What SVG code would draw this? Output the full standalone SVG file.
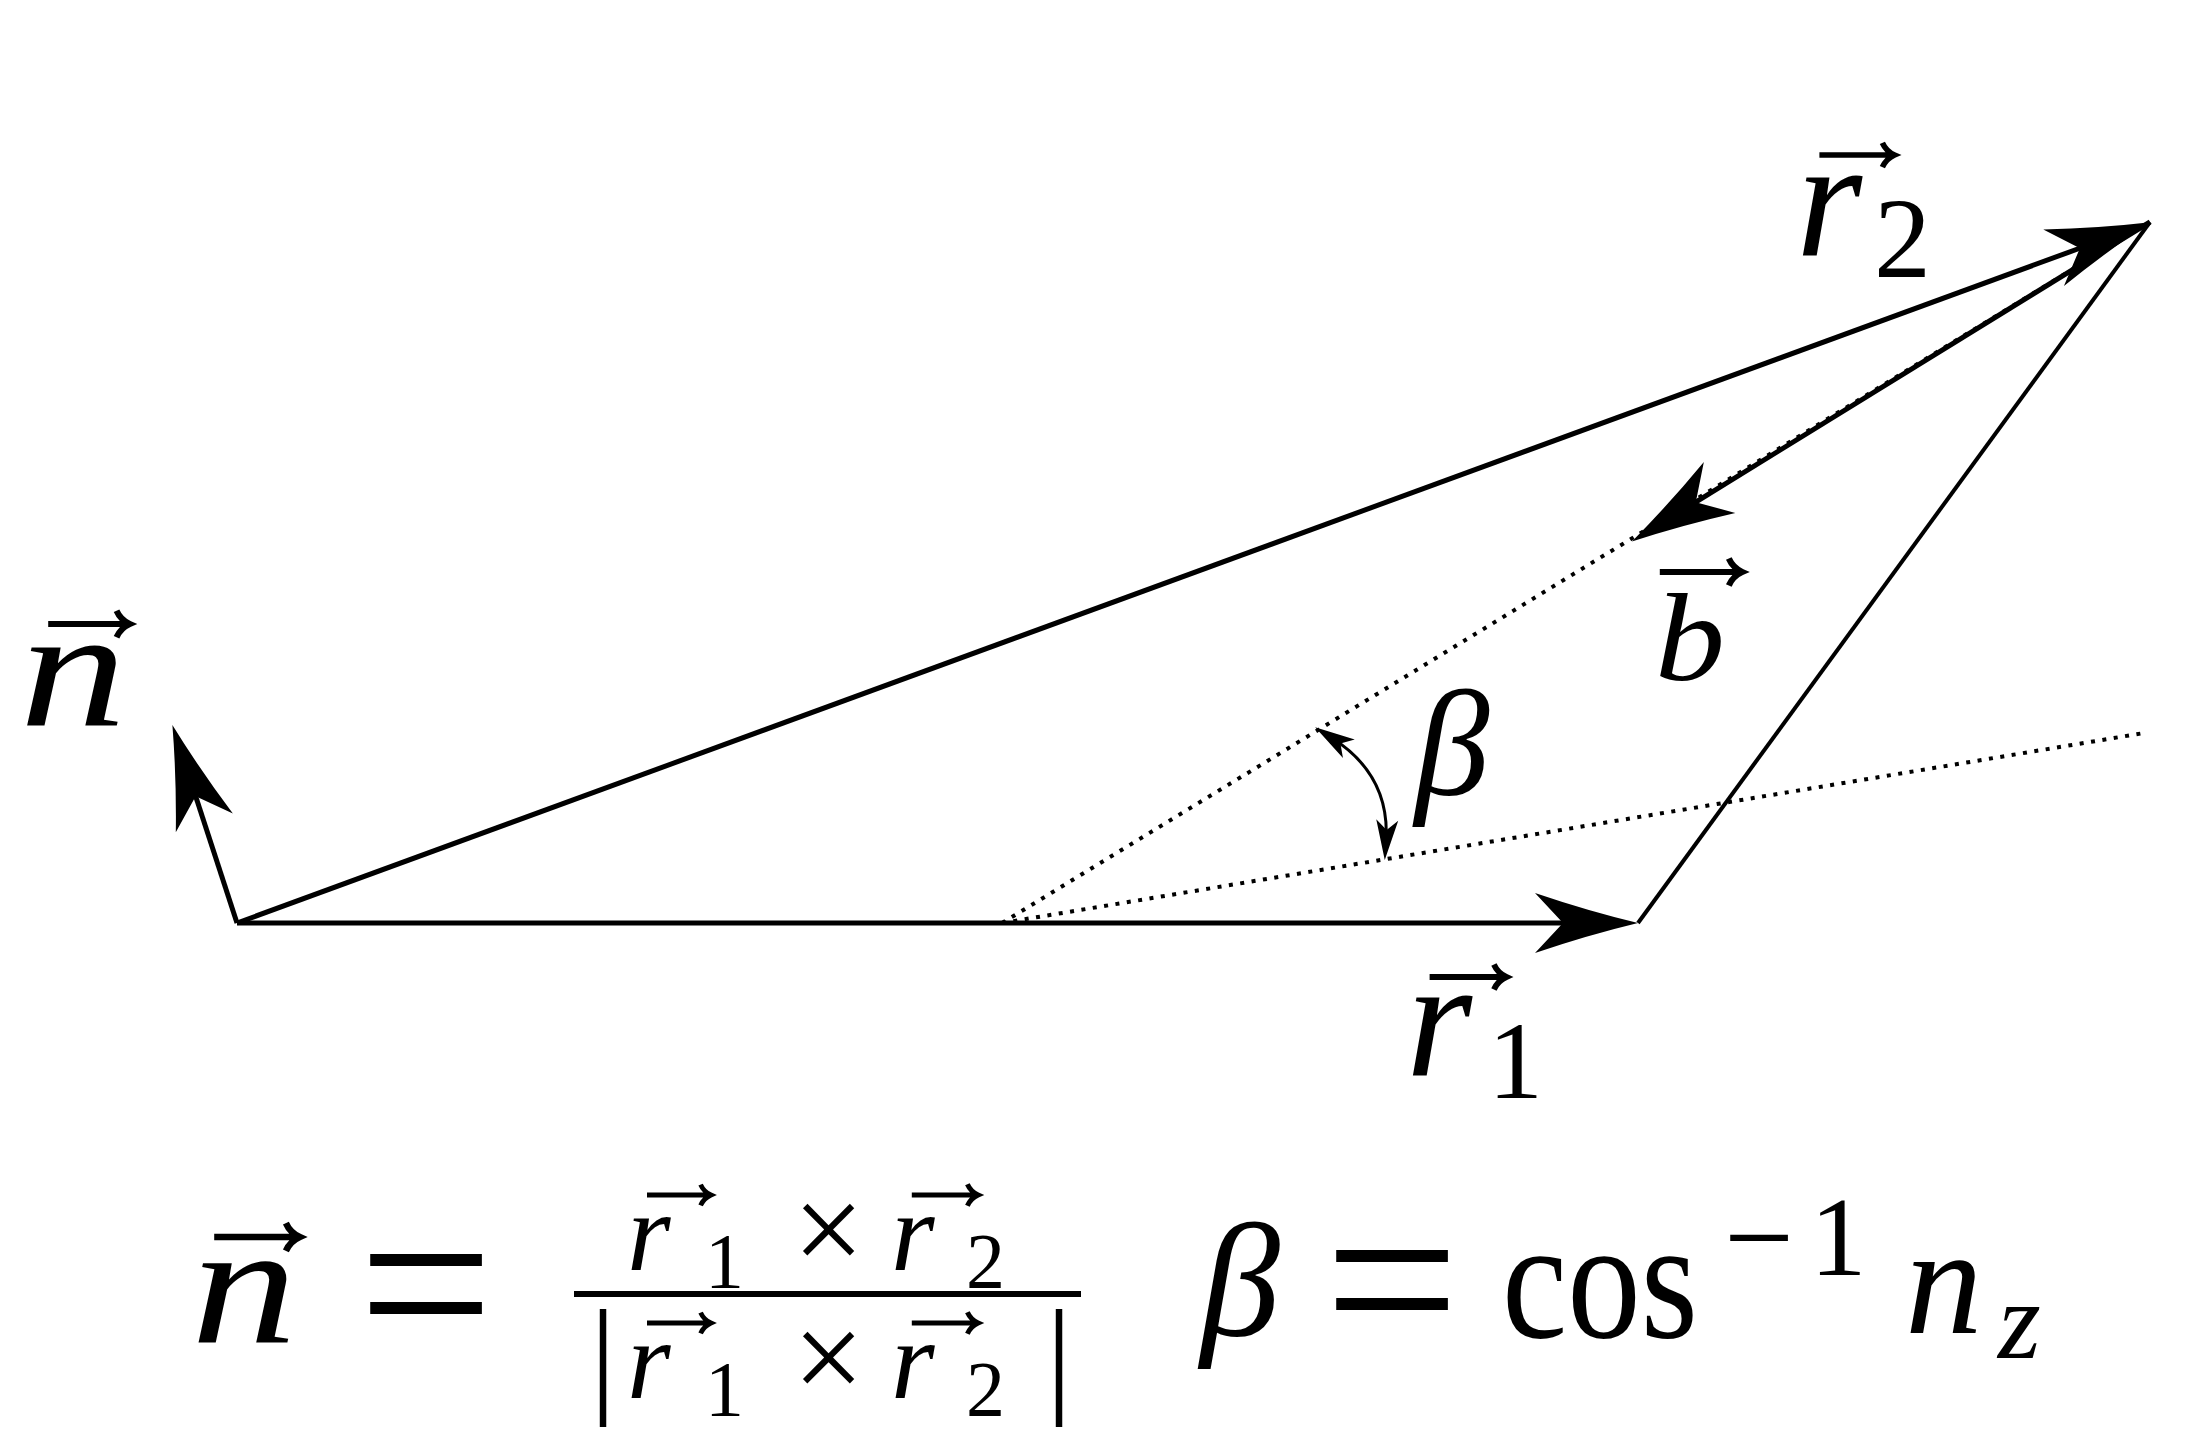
<svg xmlns="http://www.w3.org/2000/svg" width="2186" height="1440" viewBox="0 0 2186 1440" font-family="Liberation Serif, serif">
<style>
text{fill:#000}
.mi{font-style:italic}
.mr{font-style:normal}
.c{text-anchor:middle}
.vl{stroke:#000;stroke-width:5;fill:none;stroke-linecap:butt}
.dot{stroke:#000;stroke-width:4;fill:none;stroke-dasharray:4 7.5}
</style>
<defs>
<marker id="ah" markerUnits="userSpaceOnUse" viewBox="-50 -35 115 70" refX="0" refY="0" markerWidth="115" markerHeight="70" orient="auto" overflow="visible">
<path d="M60,0 Q10,-12 -43,-30 L-15,0 L-43,30 Q10,12 60,0 Z" fill="#000"/>
</marker>
<marker id="sh" markerUnits="userSpaceOnUse" viewBox="-25 -15 50 30" refX="0" refY="0" markerWidth="50" markerHeight="30" orient="auto-start-reverse" overflow="visible">
<path d="M20,0 L-20,-11 L-10,0 L-20,11 Z" fill="#000"/>
</marker>
<path id="vec" d="M-40,0 H37 M27,-13 Q31,-4 40,0 Q31,4 27,13" fill="none" stroke="#000" stroke-width="6"/>
</defs>
<rect width="2186" height="1440" fill="#fff"/>
<g id="connectors">
<line class="dot" x1="1002" y1="923" x2="2150" y2="222"/>
<line class="dot" x1="1002" y1="923" x2="2144" y2="733"/>
<line class="vl" x1="237" y1="923" x2="1578" y2="923" marker-end="url(#ah)"/>
<line class="vl" x1="237" y1="923" x2="2094" y2="243" marker-end="url(#ah)"/>
<line class="vl" x1="237" y1="923" x2="191" y2="782" marker-end="url(#ah)"/>
<line class="vl" x1="2150" y1="222" x2="1683" y2="510" marker-end="url(#ah)"/>
<line class="vl" style="stroke-width:4" x1="1638" y1="923" x2="2150" y2="222"/>
<path d="M1332,738 Q1390,775 1386,840" stroke="#000" stroke-width="3" fill="none" marker-start="url(#sh)" marker-end="url(#sh)"/>
</g>
<g id="label-n">
<use href="#vec" transform="translate(89,624) scale(1.02)"/>
<text class="mi c" x="73" y="725" font-size="170" textLength="107" lengthAdjust="spacingAndGlyphs">n</text>
</g>
<g id="label-r2">
<use href="#vec" transform="translate(1857,155) scale(0.94)"/>
<text class="mi"><tspan x="1796" y="255" font-size="170">r</tspan><tspan class="mr" x="1874" y="277" font-size="114">2</tspan></text>
</g>
<g id="label-b">
<use href="#vec" transform="translate(1701,572) scale(1.03)"/>
<text class="mi c" x="1690" y="680" font-size="125" textLength="70" lengthAdjust="spacingAndGlyphs">b</text>
</g>
<g id="label-r1">
<use href="#vec" transform="translate(1468,977) scale(0.96)"/>
<text class="mi"><tspan x="1406" y="1075" font-size="170">r</tspan><tspan class="mr" x="1488" y="1098" font-size="110">1</tspan></text>
</g>
<g id="label-beta">
<text class="mi c" x="1452" y="795" font-size="150">β</text>
</g>
<g id="formula-n">
<use href="#vec" transform="translate(257,1237) scale(1.07)"/>
<text class="mi c" x="244" y="1342" font-size="172" textLength="106" lengthAdjust="spacingAndGlyphs">n</text>
<text class="mr c" x="426" y="1364" font-size="240">=</text>
<use href="#vec" transform="translate(679,1195) scale(0.8)"/>
<use href="#vec" transform="translate(945,1195) scale(0.83)"/>
<text class="mi"><tspan x="627" y="1270" font-size="112">r</tspan><tspan class="mr" x="705" y="1287" font-size="78">1</tspan><tspan class="mr" x="793" y="1272" font-size="126">×</tspan><tspan x="891" y="1270" font-size="112">r</tspan><tspan class="mr" x="966" y="1287" font-size="78">2</tspan></text>
<line x1="574" y1="1294" x2="1081" y2="1294" stroke="#000" stroke-width="6"/>
<use href="#vec" transform="translate(679,1323) scale(0.8)"/>
<use href="#vec" transform="translate(945,1323) scale(0.83)"/>
<text class="mr"><tspan x="590" y="1399" font-size="130">|</tspan><tspan class="mi" x="627" y="1398" font-size="112">r</tspan><tspan x="705" y="1415" font-size="78">1</tspan><tspan x="793" y="1400" font-size="126">×</tspan><tspan class="mi" x="891" y="1398" font-size="112">r</tspan><tspan x="966" y="1415" font-size="78">2</tspan><tspan x="1046" y="1399" font-size="130">|</tspan></text>
</g>
<g id="formula-beta">
<text class="mi c" x="1240" y="1335" font-size="160">β</text>
<text class="mr c" x="1392" y="1360" font-size="240">=</text>
<text class="mr" x="1502" y="1337" font-size="172" textLength="196" lengthAdjust="spacingAndGlyphs">cos</text>
<text class="mr"><tspan x="1724" y="1279" font-size="124">−</tspan><tspan x="1810" y="1275" font-size="113">1</tspan></text>
<text class="mi"><tspan x="1905" y="1333" font-size="155">n</tspan><tspan x="1998" y="1358" font-size="110">z</tspan></text>
</g>
</svg>
